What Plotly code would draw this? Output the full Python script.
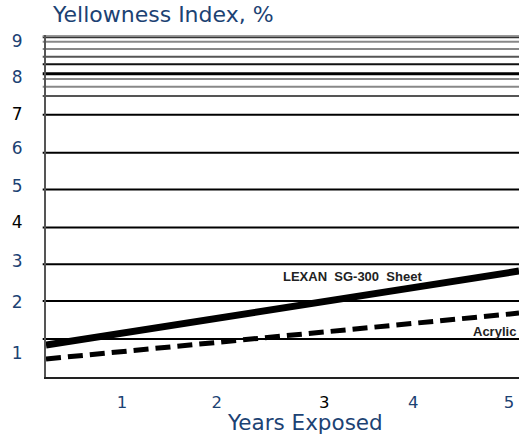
import plotly.graph_objects as go

# ---- data ----
years = [0.214, 5.103]
lexan = [0.85, 2.82]
acrylic = [0.48, 1.70]

x_tick_vals = [1.0, 1.98, 3.09, 4.01, 5.0]
x_tick_text = ["1", "2", "<span style='color:#000000'>3</span>", "4", "5"]

y_label_vals = [0.64, 1.99, 3.08, 4.12, 5.07, 6.08, 7.01, 7.97, 8.95]
y_label_text = ["1", "2", "3", "<span style='color:#000000'>4</span>", "5", "6",
                "<span style='color:#000000'>7</span>", "8", "9"]

grid_major = [1.01, 2.02, 3.0, 3.98, 4.99, 5.97, 6.98]
grid_top = [7.48, 7.72, 7.93, 8.07, 8.32, 8.52, 8.73, 8.92, 9.04, 9.08]
grid_top_colors = ["#555555", "#888888", "#888888", "#000000", "#111111",
                   "#555555", "#888888", "#888888", "#333333", "#999999"]
grid_top_widths = [2, 2, 2, 3, 2, 2, 2, 2, 2, 2]

BLUE = "#1C4273"
FONT = "Verdana, DejaVu Sans, sans-serif"

fig = go.Figure()
fig.add_trace(go.Scatter(x=years, y=lexan, mode="lines",
                         line=dict(color="#000000", width=7), name="LEXAN SG-300 Sheet",
                         showlegend=False))
fig.add_trace(go.Scatter(x=years, y=acrylic, mode="lines",
                         line=dict(color="#000000", width=5, dash="15px,7px"), name="Acrylic",
                         showlegend=False))

shapes = []
for g in grid_major:
    shapes.append(dict(type="line", xref="x domain", yref="y", x0=-0.007, x1=1, y0=g, y1=g,
                       line=dict(color="#000000", width=2), layer="below"))
for g, c, w in zip(grid_top, grid_top_colors, grid_top_widths):
    shapes.append(dict(type="line", xref="x domain", yref="y", x0=-0.007, x1=1, y0=g, y1=g,
                       line=dict(color=c, width=w), layer="below"))

annotations = [
    dict(text="Yellowness Index, %", xref="paper", yref="paper", x=0.0085, y=1.0585,
         xanchor="left", yanchor="middle", showarrow=False,
         font=dict(family=FONT, size=22, color=BLUE)),
    dict(text="Years Exposed", xref="paper", yref="paper", x=0.5476, y=-0.1345,
         xanchor="center", yanchor="middle", showarrow=False,
         font=dict(family=FONT, size=21.5, color=BLUE)),
    dict(text="<b>LEXAN  SG-300  Sheet</b>", xref="x", yref="y", x=3.387, y=2.68,
         xanchor="center", yanchor="middle", showarrow=False,
         font=dict(family="Liberation Sans, Arial, sans-serif", size=13, color="#222222")),
    dict(text="<b>Acrylic</b>", xref="x", yref="y", x=4.85, y=1.22,
         xanchor="center", yanchor="middle", showarrow=False,
         font=dict(family="Liberation Sans, Arial, sans-serif", size=13, color="#222222")),
]

fig.update_layout(
    width=519, height=435,
    margin=dict(l=46, r=0, t=35, b=58),
    paper_bgcolor="white", plot_bgcolor="white",
    showlegend=False,
    shapes=shapes,
    annotations=annotations,
    xaxis=dict(range=[years[0], years[1]], tickvals=x_tick_vals, ticktext=x_tick_text,
               showgrid=False, zeroline=False, showline=True, linecolor="#222222", linewidth=2,
               ticks="", ticklabelstandoff=9,
               tickfont=dict(family=FONT, size=16.5, color=BLUE)),
    yaxis=dict(range=[0, 9.1], tickvals=y_label_vals, ticktext=y_label_text,
               showgrid=False, zeroline=False, showline=True, linecolor="#555555", linewidth=2,
               ticks="", ticklabelstandoff=18,
               tickfont=dict(family=FONT, size=17, color=BLUE)),
)

fig.write_html("out.html", config={"displayModeBar": False},
               post_script="document.body.style.margin='0px';")
